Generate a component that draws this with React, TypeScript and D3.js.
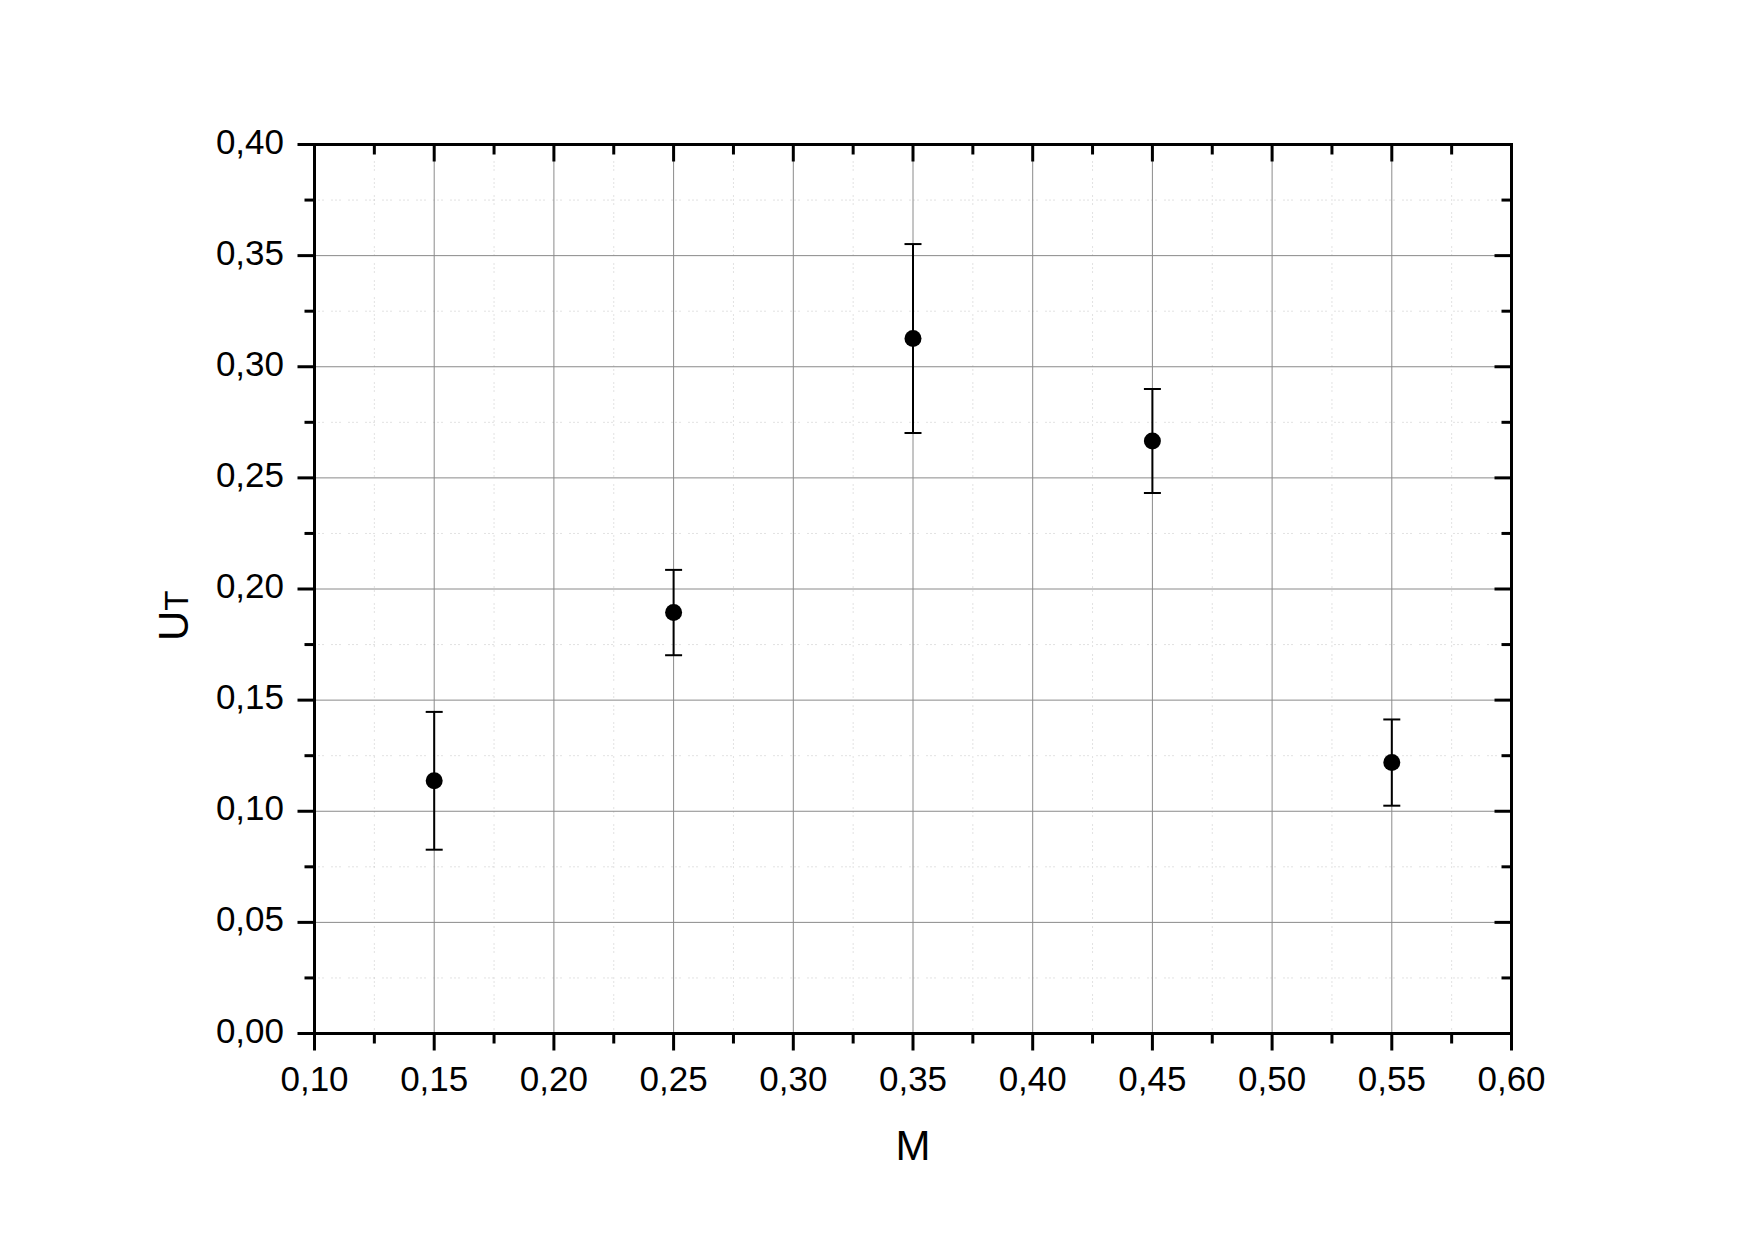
import React from "react";
import * as d3 from "d3";

const xValues = [0.15, 0.25, 0.35, 0.45, 0.55];
const yValues = [0.1137, 0.1894, 0.3127, 0.2666, 0.1219];
const yErrors = [0.031, 0.0192, 0.0425, 0.0234, 0.0194];
const xTicks = [0.1, 0.15, 0.2, 0.25, 0.3, 0.35, 0.4, 0.45, 0.5, 0.55, 0.6];
const yTicks = [0, 0.05, 0.1, 0.15, 0.2, 0.25, 0.3, 0.35, 0.4];
const xMinor = [0.125, 0.175, 0.225, 0.275, 0.325, 0.375, 0.425, 0.475, 0.525, 0.575];
const yMinor = [0.025, 0.075, 0.125, 0.175, 0.225, 0.275, 0.325, 0.375];

const W = 1755;
const H = 1240;
const L = 314.5, R = 1511.5, T = 144.5, B = 1033.5;

export default function App() {
  const x = d3.scaleLinear().domain([0.1, 0.6]).range([L, R]);
  const y = d3.scaleLinear().domain([0, 0.4]).range([B, T]);
  const fmt = (v: number) => d3.format(".2f")(v).replace(".", ",");
  const font = "'Liberation Sans', Arial, sans-serif";
  const major = 17, minor = 10;
  return (
    <svg width={W} height={H} style={{ position: "absolute", left: 0, top: 0, background: "#fff" }}>
      <rect x={0} y={0} width={W} height={H} fill="#fff" />
      {xMinor.map((v) => (
        <line key={"xm" + v} x1={x(v)} x2={x(v)} y1={T} y2={B} stroke="#c4c4c4" strokeWidth={1} strokeDasharray="1,3,1,3,1,8" />
      ))}
      {yMinor.map((v) => (
        <line key={"ym" + v} x1={L} x2={R} y1={y(v)} y2={y(v)} stroke="#c4c4c4" strokeWidth={1} strokeDasharray="1,3,1,3,1,8" />
      ))}
      {xTicks.slice(1, -1).map((v) => (
        <line key={"xg" + v} x1={x(v)} x2={x(v)} y1={T} y2={B} stroke="#8a8a8a" strokeWidth={1} />
      ))}
      {yTicks.slice(1, -1).map((v) => (
        <line key={"yg" + v} x1={L} x2={R} y1={y(v)} y2={y(v)} stroke="#8a8a8a" strokeWidth={1} />
      ))}
      <rect x={L} y={T} width={R - L} height={B - T} fill="none" stroke="#000" strokeWidth={3} />
      {xTicks.map((v) => (
        <g key={"xt" + v}>
          <line x1={x(v)} x2={x(v)} y1={B} y2={B + major} stroke="#000" strokeWidth={3} />
          <line x1={x(v)} x2={x(v)} y1={T} y2={T + major} stroke="#000" strokeWidth={3} />
          <text x={x(v)} y={1091} textAnchor="middle" fontFamily={font} fontSize={35} fill="#000">{fmt(v)}</text>
        </g>
      ))}
      {xMinor.map((v) => (
        <g key={"xmt" + v}>
          <line x1={x(v)} x2={x(v)} y1={B} y2={B + minor} stroke="#000" strokeWidth={3} />
          <line x1={x(v)} x2={x(v)} y1={T} y2={T + minor} stroke="#000" strokeWidth={3} />
        </g>
      ))}
      {yTicks.map((v) => (
        <g key={"yt" + v}>
          <line x1={L - major} x2={L} y1={y(v)} y2={y(v)} stroke="#000" strokeWidth={3} />
          <line x1={R - major} x2={R} y1={y(v)} y2={y(v)} stroke="#000" strokeWidth={3} />
          <text x={284} y={y(v) + 9} textAnchor="end" fontFamily={font} fontSize={35} fill="#000">{fmt(v)}</text>
        </g>
      ))}
      {yMinor.map((v) => (
        <g key={"ymt" + v}>
          <line x1={L - minor} x2={L} y1={y(v)} y2={y(v)} stroke="#000" strokeWidth={3} />
          <line x1={R - minor} x2={R} y1={y(v)} y2={y(v)} stroke="#000" strokeWidth={3} />
        </g>
      ))}
      {xValues.map((xv, i) => {
        const cx = x(xv);
        const yt = y(yValues[i] + yErrors[i]);
        const yb = y(yValues[i] - yErrors[i]);
        return (
          <g key={"p" + i}>
            <line x1={cx} x2={cx} y1={yt} y2={yb} stroke="#000" strokeWidth={2} />
            <line x1={cx - 8.5} x2={cx + 8.5} y1={yt} y2={yt} stroke="#000" strokeWidth={2} />
            <line x1={cx - 8.5} x2={cx + 8.5} y1={yb} y2={yb} stroke="#000" strokeWidth={2} />
            <circle cx={cx} cy={y(yValues[i])} r={8.5} fill="#000" />
          </g>
        );
      })}
      <text x={(L + R) / 2} y={1160} textAnchor="middle" fontFamily={font} fontSize={42} fill="#000">M</text>
      <text transform="translate(188,641) rotate(-90)" textAnchor="start" fontFamily={font} fill="#000">
        <tspan fontSize={42}>U</tspan>
        <tspan fontSize={33}>T</tspan>
      </text>
    </svg>
  );
}
